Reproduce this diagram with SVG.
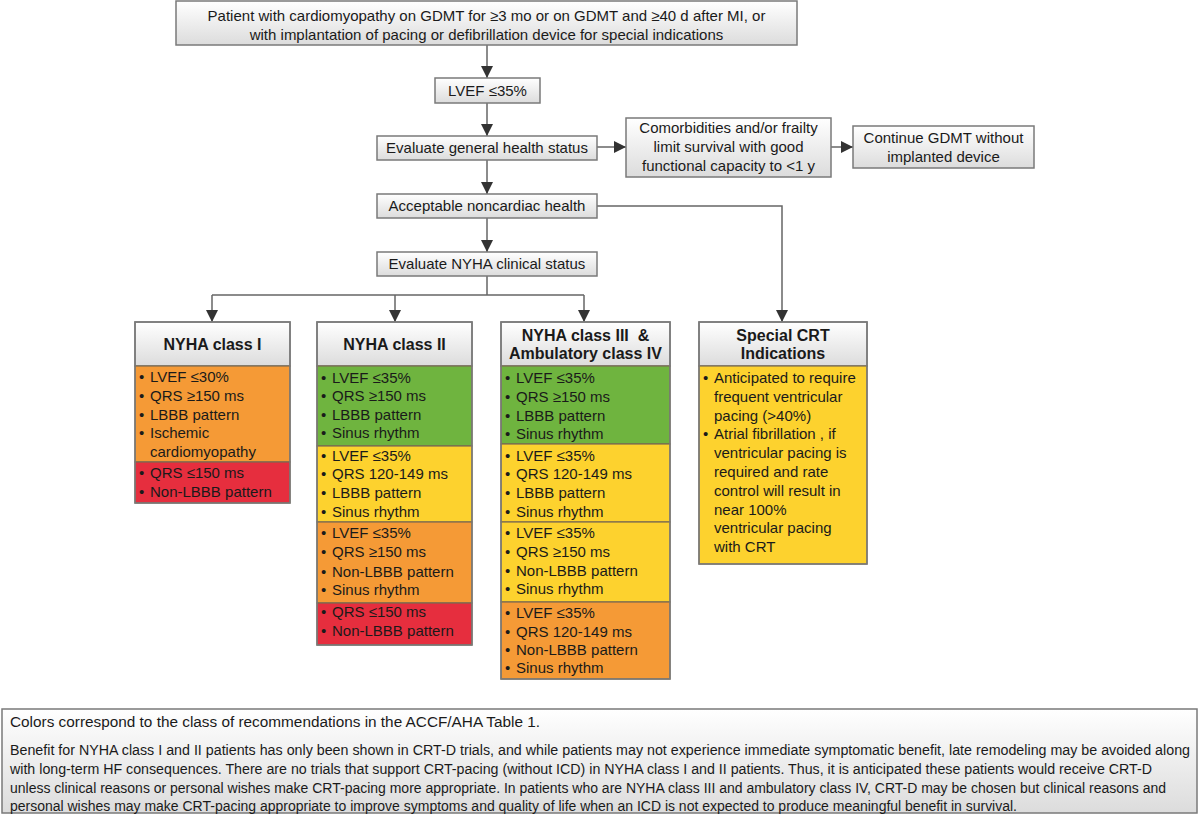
<svg xmlns="http://www.w3.org/2000/svg" width="1200" height="819" viewBox="0 0 1200 819">
<defs>
<linearGradient id="g" x1="0" y1="0" x2="0" y2="1"><stop offset="0" stop-color="#ffffff"/><stop offset="1" stop-color="#dcdcdc"/></linearGradient>
<marker id="ah" markerUnits="userSpaceOnUse" markerWidth="12" markerHeight="12" refX="12" refY="6" orient="auto"><path d="M0,0 L12,6 L0,12 z" fill="#333"/></marker>
<style>
.b{fill:url(#g);stroke:#7a7a7a;stroke-width:1.5}
.t{font-family:"Liberation Sans",Arial,sans-serif;font-size:15px;fill:#1a1a1a}
.c{text-anchor:middle}
.h{font-weight:bold;text-anchor:middle;font-size:16px}
.f{font-family:"Liberation Sans",Arial,sans-serif;font-size:14px;fill:#1a1a1a}
.seg{stroke:#7a6a50;stroke-width:1.2}
.or{fill:#f59a36}.gr{fill:#6fb43f}.ye{fill:#fdd22e}.rd{fill:#e62e3e}
.ln{fill:none;stroke:#666;stroke-width:1.5}
.fr{fill:none;stroke:#7a7a7a;stroke-width:1.5}
</style>
</defs>
<rect width="1200" height="819" fill="#fff"/>
<g id="connectors">
<path class="ln" d="M487,45 V78" marker-end="url(#ah)"/>
<path class="ln" d="M487,103 V136" marker-end="url(#ah)"/>
<path class="ln" d="M597,147 H626" marker-end="url(#ah)"/>
<path class="ln" d="M831,147 H853" marker-end="url(#ah)"/>
<path class="ln" d="M487,160 V194" marker-end="url(#ah)"/>
<path class="ln" d="M487,218 V252" marker-end="url(#ah)"/>
<path class="ln" d="M597,206 H782 V322" marker-end="url(#ah)"/>
<path class="ln" d="M487,276 V295 M212,295 H584"/>
<path class="ln" d="M212,295 V322" marker-end="url(#ah)"/>
<path class="ln" d="M395,295 V322" marker-end="url(#ah)"/>
<path class="ln" d="M584,295 V322" marker-end="url(#ah)"/>
</g>
<g id="n-start">
<rect class="b" x="176" y="1" width="621" height="44"/>
<text class="t c" x="486.5" y="21">Patient with cardiomyopathy on GDMT for ≥3 mo or on GDMT and ≥40 d after MI, or</text>
<text class="t c" x="486.5" y="40">with implantation of pacing or defibrillation device for special indications</text>
</g>
<g id="n-lvef">
<rect class="b" x="435" y="78" width="105" height="25"/>
<text class="t c" x="487.5" y="96">LVEF ≤35%</text>
</g>
<g id="n-general">
<rect class="b" x="377" y="136" width="220" height="24"/>
<text class="t c" x="487" y="153">Evaluate general health status</text>
</g>
<g id="n-comorb">
<rect class="b" x="626" y="118" width="205" height="59"/>
<text class="t c" x="728.5" y="133">Comorbidities and/or frailty</text>
<text class="t c" x="728.5" y="152">limit survival with good</text>
<text class="t c" x="728.5" y="171">functional capacity to &lt;1 y</text>
</g>
<g id="n-continue">
<rect class="b" x="853" y="126" width="181" height="42"/>
<text class="t c" x="943.5" y="143">Continue GDMT without</text>
<text class="t c" x="943.5" y="162">implanted device</text>
</g>
<g id="n-accept">
<rect class="b" x="377" y="194" width="220" height="24"/>
<text class="t c" x="487" y="211">Acceptable noncardiac health</text>
</g>
<g id="n-nyha">
<rect class="b" x="377" y="252" width="220" height="24"/>
<text class="t c" x="487" y="269">Evaluate NYHA clinical status</text>
</g>
<g id="n-class1">
<rect class="b" x="135" y="322" width="155" height="44"/>
<text class="t h" x="212.5" y="350">NYHA class I</text>
<rect class="or seg" x="135" y="366" width="155" height="96"/>
<rect class="rd seg" x="135" y="462" width="155" height="41"/>
<g class="t">
<text x="139" y="382">•</text><text x="150" y="382">LVEF ≤30%</text>
<text x="139" y="401">•</text><text x="150" y="401">QRS ≥150 ms</text>
<text x="139" y="420">•</text><text x="150" y="420">LBBB pattern</text>
<text x="139" y="438">•</text><text x="150" y="438">Ischemic</text>
<text x="150" y="457">cardiomyopathy</text>
<text x="139" y="478">•</text><text x="150" y="478">QRS ≤150 ms</text>
<text x="139" y="497">•</text><text x="150" y="497">Non-LBBB pattern</text>
</g>
<rect class="fr" x="135" y="322" width="155" height="181"/>
</g>
<g id="n-class2">
<rect class="b" x="317" y="322" width="155" height="44"/>
<text class="t h" x="394.5" y="350">NYHA class II</text>
<rect class="gr seg" x="317" y="366" width="155" height="80"/>
<rect class="ye seg" x="317" y="446" width="155" height="76"/>
<rect class="or seg" x="317" y="522" width="155" height="81"/>
<rect class="rd seg" x="317" y="603" width="155" height="42"/>
<g class="t">
<text x="321" y="383">•</text><text x="332" y="383">LVEF ≤35%</text>
<text x="321" y="401">•</text><text x="332" y="401">QRS ≥150 ms</text>
<text x="321" y="420">•</text><text x="332" y="420">LBBB pattern</text>
<text x="321" y="438">•</text><text x="332" y="438">Sinus rhythm</text>
<text x="321" y="461">•</text><text x="332" y="461">LVEF ≤35%</text>
<text x="321" y="479">•</text><text x="332" y="479">QRS 120-149 ms</text>
<text x="321" y="498">•</text><text x="332" y="498">LBBB pattern</text>
<text x="321" y="517">•</text><text x="332" y="517">Sinus rhythm</text>
<text x="321" y="538">•</text><text x="332" y="538">LVEF ≤35%</text>
<text x="321" y="557">•</text><text x="332" y="557">QRS ≥150 ms</text>
<text x="321" y="577">•</text><text x="332" y="577">Non-LBBB pattern</text>
<text x="321" y="595">•</text><text x="332" y="595">Sinus rhythm</text>
<text x="321" y="617">•</text><text x="332" y="617">QRS ≤150 ms</text>
<text x="321" y="636">•</text><text x="332" y="636">Non-LBBB pattern</text>
</g>
<rect class="fr" x="317" y="322" width="155" height="323"/>
</g>
<g id="n-class3">
<rect class="b" x="501" y="322" width="169" height="44"/>
<text class="t h" x="585.5" y="341">NYHA class III &#160;&amp;</text>
<text class="t h" x="585.5" y="359">Ambulatory class IV</text>
<rect class="gr seg" x="501" y="366" width="169" height="78"/>
<rect class="ye seg" x="501" y="444" width="169" height="78"/>
<rect class="ye seg" x="501" y="522" width="169" height="80"/>
<rect class="or seg" x="501" y="602" width="169" height="77"/>
<g class="t">
<text x="505" y="383">•</text><text x="516" y="383">LVEF ≤35%</text>
<text x="505" y="402">•</text><text x="516" y="402">QRS ≥150 ms</text>
<text x="505" y="421">•</text><text x="516" y="421">LBBB pattern</text>
<text x="505" y="439">•</text><text x="516" y="439">Sinus rhythm</text>
<text x="505" y="461">•</text><text x="516" y="461">LVEF ≤35%</text>
<text x="505" y="479">•</text><text x="516" y="479">QRS 120-149 ms</text>
<text x="505" y="498">•</text><text x="516" y="498">LBBB pattern</text>
<text x="505" y="517">•</text><text x="516" y="517">Sinus rhythm</text>
<text x="505" y="538">•</text><text x="516" y="538">LVEF ≤35%</text>
<text x="505" y="557">•</text><text x="516" y="557">QRS ≥150 ms</text>
<text x="505" y="576">•</text><text x="516" y="576">Non-LBBB pattern</text>
<text x="505" y="594">•</text><text x="516" y="594">Sinus rhythm</text>
<text x="505" y="618">•</text><text x="516" y="618">LVEF ≤35%</text>
<text x="505" y="637">•</text><text x="516" y="637">QRS 120-149 ms</text>
<text x="505" y="655">•</text><text x="516" y="655">Non-LBBB pattern</text>
<text x="505" y="673">•</text><text x="516" y="673">Sinus rhythm</text>
</g>
<rect class="fr" x="501" y="322" width="169" height="357"/>
</g>
<g id="n-special">
<rect class="b" x="699" y="322" width="168" height="44"/>
<text class="t h" x="783" y="341">Special CRT</text>
<text class="t h" x="783" y="359">Indications</text>
<rect class="ye seg" x="699" y="366" width="168" height="198"/>
<g class="t">
<text x="703" y="383">•</text><text x="714" y="383">Anticipated to require</text>
<text x="714" y="402">frequent ventricular</text>
<text x="714" y="421">pacing (&gt;40%)</text>
<text x="703" y="439">•</text><text x="714" y="439">Atrial fibrillation , if</text>
<text x="714" y="458">ventricular pacing is</text>
<text x="714" y="477">required and rate</text>
<text x="714" y="496">control will result in</text>
<text x="714" y="515">near 100%</text>
<text x="714" y="533">ventricular pacing</text>
<text x="714" y="552">with CRT</text>
</g>
<rect class="fr" x="699" y="322" width="168" height="242"/>
</g>
<g id="n-footnote">
<rect class="b" x="2" y="709" width="1195" height="104"/>
<text class="f" x="10" y="727" textLength="530" lengthAdjust="spacingAndGlyphs">Colors correspond to the class of recommendations in the ACCF/AHA Table 1.</text>
<text class="f" x="10" y="755" textLength="1180" lengthAdjust="spacingAndGlyphs">Benefit for NYHA class I and II patients has only been shown in CRT-D trials, and while patients may not experience immediate symptomatic benefit, late remodeling may be avoided along</text>
<text class="f" x="10" y="774" textLength="1142" lengthAdjust="spacingAndGlyphs">with long-term HF consequences. There are no trials that support CRT-pacing (without ICD) in NYHA class I and II patients. Thus, it is anticipated these patients would receive CRT-D</text>
<text class="f" x="10" y="793" textLength="1156" lengthAdjust="spacingAndGlyphs">unless clinical reasons or personal wishes make CRT-pacing more appropriate. In patients who are NYHA class III and ambulatory class IV, CRT-D may be chosen but clinical reasons and</text>
<text class="f" x="10" y="811" textLength="1007" lengthAdjust="spacingAndGlyphs">personal wishes may make CRT-pacing appropriate to improve symptoms and quality of life when an ICD is not expected to produce meaningful benefit in survival.</text>
</g>
</svg>
